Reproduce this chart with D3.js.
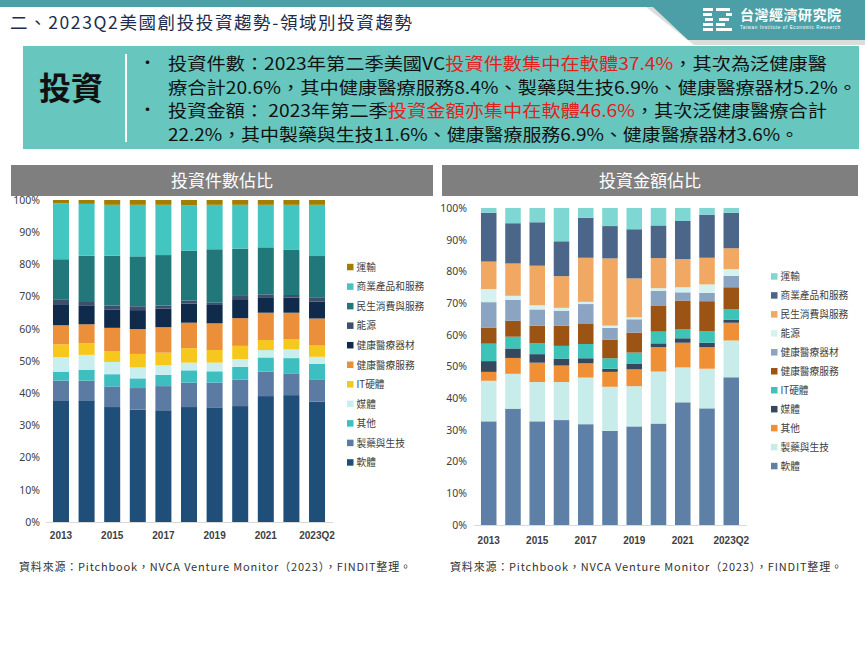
<!DOCTYPE html>
<html>
<head>
<meta charset="utf-8">
<script src="https://cdn.jsdelivr.net/npm/d3@7"></script>
<style>
  body { margin: 0; background: #fff; }
  svg { display: block; font-family: "Noto Sans CJK TC", "Noto Sans", sans-serif; }
</style>
</head>
<body>
<svg width="865" height="649"></svg>
<script>
// categories
const years = ["2013", "2014", "2015", "2016", "2017", "2018", "2019", "2020", "2021", "2022", "2023Q2"];
const tickYears = ["2013", "2015", "2017", "2019", "2021", "2023Q2"];
const sectors = ["軟體", "製藥與生技", "其他", "媒體", "IT硬體", "健康醫療服務", "健康醫療器材", "能源", "民生消費與服務", "商業產品和服務", "運輸"];
const yTicks = [0, 0.1, 0.2, 0.3, 0.4, 0.5, 0.6, 0.7, 0.8, 0.9, 1];

// 投資件數佔比 (%), bottom -> top
const cntSoftware  = [37.8, 37.8, 35.7, 34.9, 34.7, 35.7, 35.6, 36.0, 39.1, 39.4, 37.4];
const cntPharma    = [6.1, 6.1, 6.4, 6.7, 7.5, 7.6, 7.7, 8.2, 7.6, 6.6, 6.9];
const cntOther     = [2.8, 3.4, 3.8, 3.0, 3.5, 3.8, 3.5, 4.0, 4.4, 4.9, 4.8];
const cntMedia     = [4.5, 4.6, 3.8, 3.4, 3.0, 2.4, 2.7, 2.4, 2.3, 2.7, 2.2];
const cntItHw      = [4.0, 3.6, 3.4, 4.2, 3.9, 4.5, 3.9, 4.1, 3.1, 3.1, 3.5];
const cntHcServ    = [5.9, 5.9, 7.2, 7.7, 7.9, 7.9, 8.3, 8.6, 8.5, 8.3, 8.4];
const cntHcDev     = [6.3, 5.9, 5.6, 5.9, 5.8, 5.9, 5.7, 5.9, 4.8, 4.7, 5.2];
const cntEnergy    = [1.6, 1.3, 1.3, 1.2, 0.9, 1.0, 0.7, 1.0, 0.9, 0.8, 1.4];
const cntConsumer  = [12.6, 14.1, 15.5, 15.5, 15.7, 15.4, 16.6, 14.7, 14.6, 14.0, 12.8];
const cntBusiness  = [17.4, 16.1, 15.8, 16.0, 15.6, 14.1, 13.8, 13.6, 13.2, 14.0, 15.9];
const cntTransport = [1.0, 1.2, 1.5, 1.5, 1.5, 1.7, 1.5, 1.5, 1.5, 1.5, 1.5];

// 投資金額佔比 (%), bottom -> top
const amtSoftware  = [32.7, 36.7, 32.7, 33.1, 31.8, 29.7, 31.1, 32.0, 38.7, 36.8, 46.6];
const amtPharma    = [12.8, 11.0, 12.4, 12.0, 14.7, 13.9, 12.7, 16.4, 11.0, 12.5, 11.6];
const amtOther     = [2.8, 5.0, 6.1, 5.2, 4.5, 4.7, 5.3, 7.7, 7.8, 6.8, 5.6];
const amtMedia     = [3.4, 3.0, 2.7, 2.2, 1.6, 1.0, 1.7, 1.2, 1.4, 1.4, 0.9];
const amtItHw      = [5.5, 3.7, 3.4, 4.0, 4.5, 3.3, 3.6, 3.7, 2.8, 3.6, 3.4];
const amtHcServ    = [5.1, 5.0, 5.6, 6.4, 6.5, 5.8, 6.3, 8.1, 9.1, 9.5, 6.9];
const amtHcDev     = [8.0, 6.6, 5.1, 4.7, 6.1, 3.8, 4.2, 4.8, 2.6, 2.6, 3.6];
const amtEnergy    = [4.1, 1.3, 1.3, 0.9, 0.7, 0.7, 0.6, 0.8, 1.6, 2.7, 2.1];
const amtConsumer  = [8.7, 10.2, 12.5, 10.0, 13.9, 21.2, 12.3, 9.5, 8.9, 8.4, 6.6];
const amtBusiness  = [15.4, 12.7, 13.7, 11.0, 12.6, 10.2, 15.5, 10.3, 12.0, 13.6, 11.2];
const amtTransport = [1.5, 4.8, 4.5, 10.5, 3.1, 5.7, 6.7, 5.5, 4.1, 2.1, 1.5];

const countSeries = [cntSoftware, cntPharma, cntOther, cntMedia, cntItHw, cntHcServ, cntHcDev, cntEnergy, cntConsumer, cntBusiness, cntTransport];
const amountSeries = [amtSoftware, amtPharma, amtOther, amtMedia, amtItHw, amtHcServ, amtHcDev, amtEnergy, amtConsumer, amtBusiness, amtTransport];

const countColors = ["#1f4e79", "#5b7ba2", "#3dbfc1", "#c8eeee", "#f6c81d", "#ec8f3a", "#0f2a4a", "#3c506e", "#22777b", "#43c6c2", "#a07f00"];
const amountColors = ["#5e80a6", "#c7ecea", "#ef9036", "#34495e", "#3dc3b8", "#9b5413", "#8aa4c1", "#d6f2f0", "#f1a863", "#4b6688", "#7ed7d2"];

const svg = d3.select("svg");

// ---------- header ----------
svg.append("rect").attr("x", 0).attr("y", 0).attr("width", 865).attr("height", 7).attr("fill", "#4c9fa6");
svg.append("polygon").attr("points", "646,7 865,7 865,45 694,45").attr("fill", "#dcdcdc");
svg.append("polygon").attr("points", "653,7 865,7 865,40 688,40").attr("fill", "#4c9fa6");

// logo mark, drawn as white stripes
const logo = svg.append("g").attr("fill", "#fff");
[[703, 8, 10], [703, 13, 9], [705, 18, 8], [703, 23, 10], [703, 28, 10]].forEach(d => {
    logo.append("rect").attr("x", d[0]).attr("y", d[1]).attr("width", d[2]).attr("height", 3);
});
[[716, 8, 14], [726, 13, 6], [719, 18, 10], [716, 23, 9], [716, 28, 16]].forEach(d => {
    logo.append("rect").attr("x", d[0]).attr("y", d[1]).attr("width", d[2]).attr("height", 3);
});
svg.append("text").attr("x", 740).attr("y", 20).attr("fill", "#fff")
    .attr("font-size", 14).attr("font-weight", 700).attr("textLength", 101)
    .text("台灣經濟研究院");
svg.append("text").attr("x", 740).attr("y", 29).attr("fill", "#fff")
    .attr("font-size", 4.6).attr("font-family", "Liberation Sans").attr("textLength", 100)
    .text("Taiwan Institute of Economic Research");

svg.append("text").attr("x", 10).attr("y", 29).attr("fill", "#1d2b4f")
    .attr("font-size", 17.5).attr("textLength", 402)
    .text("二、2023Q2美國創投投資趨勢-領域別投資趨勢");

// ---------- summary box ----------
svg.append("rect").attr("x", 23).attr("y", 46).attr("width", 836).attr("height", 103).attr("fill", "#67c6be");
svg.append("text").attr("x", 39).attr("y", 100).attr("font-size", 32).attr("font-weight", 700)
    .attr("fill", "#111").text("投資");
svg.append("line").attr("x1", 126).attr("x2", 126).attr("y1", 54).attr("y2", 142)
    .attr("stroke", "#fff").attr("stroke-width", 2);

const lines = [
    { y: 70, w: 659, bullet: true, parts: [["投資件數：2023年第二季美國VC", 0], ["投資件數集中在軟體37.4%", 1], ["，其次為泛健康醫", 0]] },
    { y: 93.5, w: 689, bullet: false, parts: [["療合計20.6%，其中健康醫療服務8.4%、製藥與生技6.9%、健康醫療器材5.2%。", 0]] },
    { y: 117, w: 659, bullet: true, parts: [["投資金額： 2023年第二季", 0], ["投資金額亦集中在軟體46.6%", 1], ["，其次泛健康醫療合計", 0]] },
    { y: 140.5, w: 631, bullet: false, parts: [["22.2%，其中製藥與生技11.6%、健康醫療服務6.9%、健康醫療器材3.6%。", 0]] }
];
lines.forEach(l => {
    if (l.bullet) {
        svg.append("text").attr("x", 139).attr("y", l.y - 1).attr("font-size", 17).attr("fill", "#111").text("•");
    }
    const t = svg.append("text").attr("x", 168).attr("y", l.y).attr("font-size", 17)
        .attr("textLength", l.w).attr("lengthAdjust", "spacingAndGlyphs");
    l.parts.forEach(p => {
        t.append("tspan").attr("fill", p[1] ? "#e3211c" : "#111").text(p[0]);
    });
});

// ---------- charts ----------
function drawChart(o) {
    const g = svg.append("g");

    g.append("rect").attr("x", o.panelX).attr("y", 165).attr("width", o.panelW).attr("height", 31).attr("fill", "#7f7f7f");
    g.append("text").attr("x", o.panelX + o.panelW / 2).attr("y", 187).attr("text-anchor", "middle")
        .attr("fill", "#fff").attr("font-size", 17).text(o.title);

    const rows = years.map((yr, i) => {
        const r = { year: yr };
        sectors.forEach((s, j) => { r[s] = o.series[j][i]; });
        return r;
    });
    const stacked = d3.stack().keys(sectors).offset(d3.stackOffsetExpand)(rows);

    const x = d3.scaleBand().domain(years).range(o.xRange).paddingInner(o.padIn).paddingOuter(0.3);
    const y = d3.scaleLinear().domain([0, 1]).range([o.yBase, o.yTop]);
    const color = d3.scaleOrdinal().domain(sectors).range(o.colors);

    g.append("g").selectAll("g").data(stacked).join("g")
        .attr("fill", d => color(d.key))
        .selectAll("rect").data(d => d).join("rect")
        .attr("x", d => x(d.data.year))
        .attr("width", x.bandwidth())
        .attr("y", d => y(d[1]))
        .attr("height", d => y(d[0]) - y(d[1]));

    const ya = g.append("g").attr("transform", `translate(${o.yLabelX},0)`)
        .call(d3.axisLeft(y).tickValues(yTicks).tickFormat(d3.format(".0%")).tickSize(0));
    ya.select(".domain").remove();
    ya.selectAll("text").attr("font-family", "Noto Sans").attr("font-size", 10.5).attr("fill", "#404040").attr("x", 0);

    const xa = g.append("g").attr("transform", `translate(0,${o.yBase})`)
        .call(d3.axisBottom(x).tickValues(tickYears).tickSize(0).tickSizeOuter(0));
    xa.select(".domain").attr("stroke", "#d9d9d9");
    xa.selectAll("text").attr("font-family", "Liberation Sans").attr("font-weight", 700)
        .attr("font-size", 10).attr("fill", "#404040").attr("dy", 0).attr("y", o.xLabelDy);

    const leg = g.append("g").selectAll("g").data(sectors.slice().reverse()).join("g")
        .attr("transform", (d, i) => `translate(${o.legX},${o.legY + i * o.legStep})`);
    leg.append("rect").attr("x", 0).attr("y", -3.5).attr("width", 6.5).attr("height", 6.5).attr("fill", d => color(d));
    leg.append("text").attr("x", 9.5).attr("y", 3.5).attr("font-size", 9.7).attr("fill", "#404040").text(d => d);

    g.append("text").attr("x", o.panelX + 8).attr("y", 571).attr("font-size", 11).attr("fill", "#333")
        .attr("textLength", 392)
        .text("資料來源：Pitchbook，NVCA Venture Monitor（2023），FINDIT整理。");
}

drawChart({
    title: "投資件數佔比", series: countSeries, colors: countColors,
    panelX: 11, panelW: 422, xRange: [45.3, 332.7], padIn: 0.375,
    yTop: 200, yBase: 522, yLabelX: 40, xLabelDy: 17,
    legX: 347, legY: 267.3, legStep: 19.54
});
drawChart({
    title: "投資金額佔比", series: amountSeries, colors: amountColors,
    panelX: 442, panelW: 416, xRange: [473.7, 746.3], padIn: 0.36,
    yTop: 208, yBase: 525, yLabelX: 467, xLabelDy: 19,
    legX: 771, legY: 276.7, legStep: 18.96
});
</script>
</body>
</html>
